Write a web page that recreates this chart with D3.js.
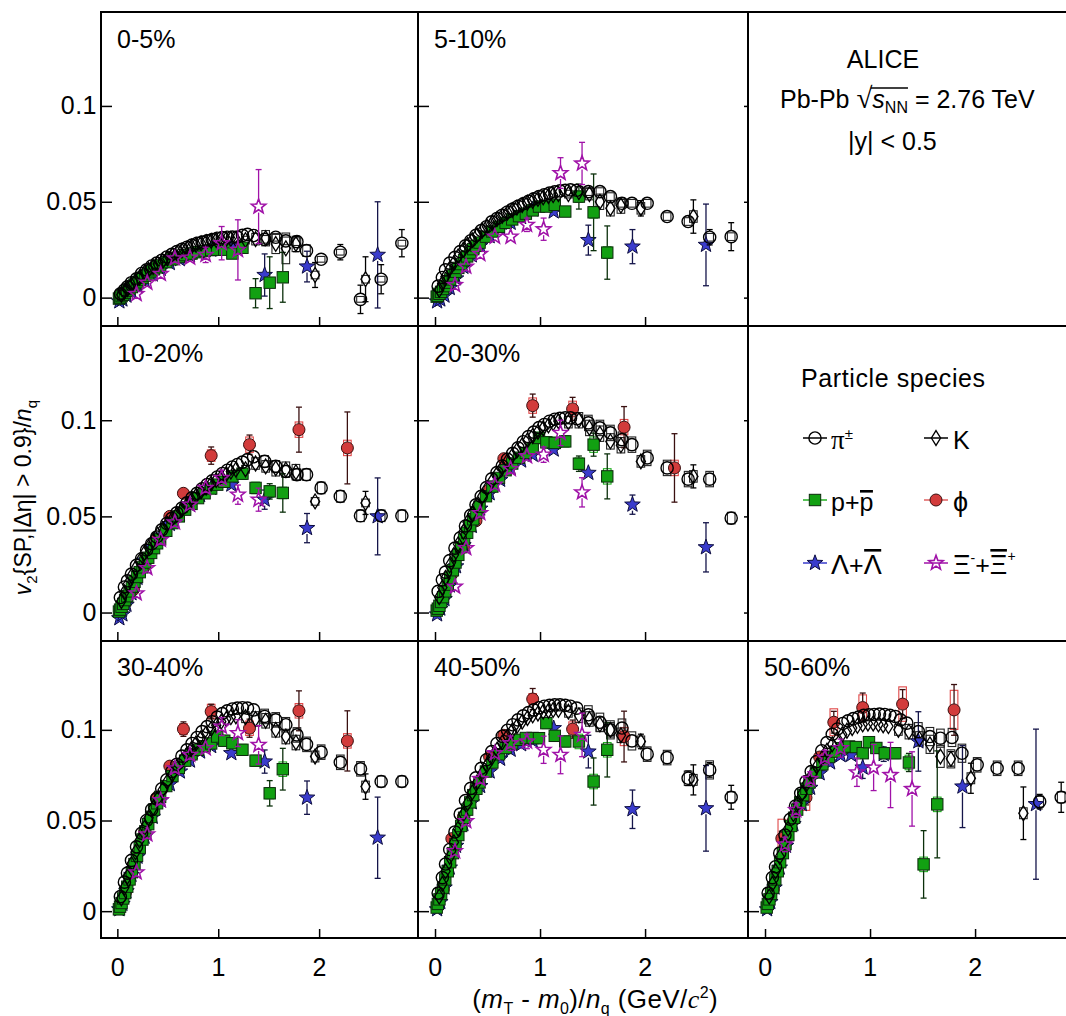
<!DOCTYPE html>
<html><head><meta charset="utf-8">
<script src="https://cdn.jsdelivr.net/npm/d3@7"></script>
<style>
body{margin:0;background:#fff}
svg text{font-family:"Liberation Sans",Arial,Helvetica,sans-serif;fill:#000}
</style></head>
<body><svg id="c" width="1066" height="1016"></svg>
<script>
// ---------------- DATA ----------------
const centralities = ["0-5%","5-10%","10-20%","20-30%","30-40%","40-50%","50-60%"];
const xTicks = [0, 1, 2];
const yTicks = [0, 0.05, 0.1];
const yTickLabels = ["0", "0.05", "0.1"];

// (mT - m0)/nq bin centres per species (GeV/c^2)
const PI_X = [0.03,0.07,0.10,0.14,0.19,0.24,0.29,0.34,0.39,0.44,0.49,0.54,0.59,0.64,0.69,0.74,0.79,0.84,0.89,0.94,0.99,1.04,1.09,1.14,1.19,1.24,1.29,1.35,1.46,1.57,1.67,1.78,1.875,2.02,2.21,2.41,2.615,2.82];
const K_X = [0.04,0.07,0.10,0.14,0.18,0.22,0.27,0.31,0.355,0.40,0.45,0.495,0.545,0.59,0.64,0.69,0.735,0.78,0.83,0.88,0.93,0.98,1.03,1.08,1.125,1.175,1.27,1.37,1.47,1.57,1.67,1.77,1.96,2.46];
const P_X = [0.016,0.027,0.042,0.058,0.077,0.098,0.121,0.144,0.17,0.195,0.222,0.249,0.277,0.306,0.335,0.364,0.394,0.424,0.485,0.546,0.609,0.672,0.735,0.80,0.865,0.93,0.99,1.06,1.14,1.24,1.37,1.51,1.64];
const PHI_X = [0.08,0.16,0.27,0.39,0.52,0.655,0.93,1.31,1.80,2.28];
const LAM_X = [0.02,0.05,0.09,0.14,0.20,0.27,0.35,0.43,0.52,0.62,0.72,0.82,0.93,1.13,1.46,1.88,2.58];
const XI_X = [0.19,0.296,0.43,0.57,0.72,0.875,1.034,1.195,1.40];

// v2/nq values: number = value, [value, stat, syst] where uncertainties are drawn
const pion_0_5 = [0.002,0.004,0.0057,0.0078,0.0098,0.0126,0.0145,0.0165,0.018,0.0195,0.0212,0.0226,0.024,0.0252,0.0263,0.0274,0.0284,0.029,0.0297,0.0303,0.031,0.0313,0.0315,0.0316,0.0316,0.0325,0.033,0.0324,[0.0304,0.001,0.002],[0.0315,0.001,0.002],[0.0296,0.001,0.002],[0.0292,0.0012,0.002],[0.0245,0.0015,0.003],[0.020,0.0015,0.0015],[0.0237,0.004,0.0015],[-0.0009,0.0074,0.0015],[0.0096,0.0076,0.0015],[0.0284,0.0071,0.0015]];
const pion_5_10 = [0.006,0.0105,0.0145,0.018,0.021,0.024,0.027,0.0297,0.0325,0.035,0.037,0.0395,0.0413,0.043,0.0447,0.0462,0.0477,0.049,0.0503,0.0515,0.0527,0.0537,0.0545,0.0552,0.0557,0.056,0.0562,0.056,[0.0553,0.001,0.002],[0.0553,0.001,0.002],[0.0527,0.001,0.002],[0.0492,0.001,0.002],[0.0492,0.0012,0.002],[0.0492,0.0015,0.002],[0.0423,0.002,0.002],[0.0397,0.003,0.002],[0.0315,0.004,0.002],[0.0318,0.0073,0.002]];
const pion_10_20 = [0.0078,0.0133,0.0165,0.020,0.0245,0.028,0.0325,0.0358,0.0393,0.043,0.0463,0.049,0.0518,0.0543,0.057,0.0596,0.062,0.0643,0.0665,0.0685,0.0705,0.0723,0.074,0.0757,0.077,0.0782,0.0795,0.081,[0.0786,0.001,0.003],[0.076,0.001,0.003],[0.0734,0.001,0.003],[0.0717,0.0012,0.003],[0.0717,0.0015,0.003],[0.0648,0.0015,0.003],[0.0604,0.002,0.003],[0.0503,0.002,0.003],[0.0503,0.002,0.003],[0.0503,0.0025,0.003]];
const pion_20_30 = [0.011,0.017,0.021,0.027,0.0335,0.0388,0.045,0.0505,0.056,0.0604,0.065,0.0695,0.0728,0.0762,0.0797,0.0828,0.0856,0.0888,0.0915,0.0938,0.0962,0.0978,0.0995,0.1005,0.101,0.1012,0.1012,0.1008,[0.0986,0.001,0.004],[0.096,0.001,0.004],[0.0934,0.0012,0.004],[0.0899,0.0012,0.004],[0.0873,0.0015,0.004],[0.0804,0.002,0.004],[0.0752,0.003,0.004],[0.0694,0.003,0.004],[0.0694,0.003,0.004],[0.0491,0.002,0.003]];
const pion_30_40 = [0.008,0.016,0.021,0.028,0.0355,0.043,0.05,0.056,0.062,0.0675,0.0725,0.077,0.081,0.0855,0.089,0.0925,0.0958,0.099,0.1018,0.1045,0.107,0.109,0.1105,0.1115,0.112,0.1122,0.112,0.111,[0.1074,0.001,0.004],[0.1055,0.001,0.004],[0.1028,0.0012,0.004],[0.0972,0.0015,0.004],[0.092,0.0015,0.004],[0.0877,0.002,0.004],[0.0821,0.003,0.004],[0.0785,0.003,0.004],[0.0715,0.003,0.003],[0.0715,0.003,0.003]];
const pion_40_50 = [0.01,0.0185,0.026,0.034,0.0437,0.0535,0.061,0.0677,0.0735,0.0788,0.0835,0.088,0.0925,0.0965,0.0998,0.1028,0.1055,0.1077,0.1095,0.111,0.1122,0.113,0.1135,0.1138,0.1138,0.1135,0.113,0.112,[0.1083,0.0015,0.005],[0.1042,0.0015,0.005],[0.100,0.002,0.005],[0.101,0.002,0.005],[0.0939,0.002,0.005],[0.0866,0.003,0.004],[0.0847,0.003,0.004],[0.0733,0.004,0.004],[0.0779,0.004,0.005],[0.0628,0.0066,0.003]];
const pion_50_60 = [0.01,0.0185,0.0245,0.032,0.042,0.0507,0.058,0.065,0.0715,0.077,0.0825,0.0885,0.093,0.0975,0.1005,0.1035,0.105,0.1062,0.107,0.108,0.1083,0.1085,0.1087,0.1085,0.108,0.1074,0.1055,0.1037,[0.099,0.002,0.005],[0.0963,0.002,0.005],[0.0954,0.002,0.005],[0.0958,0.002,0.005],[0.0871,0.003,0.005],[0.0807,0.003,0.004],[0.0788,0.003,0.004],[0.0788,0.003,0.004],[0.0604,0.004,0.003],[0.0628,0.0083,0.003]];

const kaon_0_5 = [0.0015,0.003,0.0045,0.0065,0.0085,0.0105,0.013,0.0145,0.016,0.0175,0.019,0.0205,0.022,0.0232,0.0245,0.0256,0.0266,0.0275,0.0283,0.029,0.0296,0.030,0.0303,0.0305,0.0306,0.0305,[0.030,0.001,0.002],[0.0305,0.0015,0.003],[0.031,0.002,0.004],[0.028,0.003,0.005],[0.0257,0.003,0.008],[0.028,0.004,0.004],[0.0118,0.0065,0.002],[0.0096,0.0117,0.002]];
const kaon_5_10 = [0.004,0.0075,0.011,0.015,0.018,0.0215,0.025,0.0275,0.030,0.0325,0.035,0.037,0.039,0.041,0.0427,0.0443,0.0457,0.047,0.0483,0.0495,0.0505,0.0515,0.0523,0.053,0.0535,0.054,[0.054,0.001,0.002],[0.055,0.0015,0.003],[0.054,0.002,0.003],[0.050,0.002,0.004],[0.0466,0.003,0.004],[0.048,0.003,0.004],[0.0466,0.004,0.003],[0.0423,0.0087,0.003]];
const kaon_10_20 = [0.006,0.0105,0.0145,0.019,0.023,0.0265,0.031,0.034,0.0375,0.0405,0.0435,0.046,0.0487,0.051,0.0535,0.056,0.0585,0.0607,0.063,0.065,0.067,0.0688,0.0705,0.072,0.0733,0.0743,[0.0745,0.001,0.002],[0.0775,0.0015,0.003],[0.076,0.002,0.003],[0.075,0.002,0.004],[0.0743,0.003,0.004],[0.073,0.003,0.004],[0.0578,0.003,0.002],[0.057,0.006,0.002]];
const kaon_20_30 = [0.008,0.013,0.018,0.0245,0.03,0.0355,0.042,0.047,0.0515,0.056,0.0605,0.0645,0.0685,0.072,0.0755,0.0788,0.0815,0.0843,0.087,0.0895,0.0918,0.094,0.0958,0.0973,0.0985,0.0995,[0.099,0.001,0.003],[0.100,0.0015,0.004],[0.096,0.002,0.004],[0.093,0.002,0.004],[0.089,0.003,0.004],[0.087,0.003,0.004],[0.0786,0.003,0.003],[0.0708,0.006,0.003]];
const kaon_30_40 = [0.007,0.013,0.019,0.026,0.0325,0.039,0.046,0.0515,0.057,0.062,0.067,0.0715,0.0755,0.0795,0.083,0.0865,0.0895,0.0925,0.0955,0.098,0.1005,0.1025,0.1045,0.106,0.107,0.1075,[0.107,0.001,0.003],[0.106,0.0015,0.004],[0.105,0.002,0.004],[0.100,0.002,0.004],[0.0963,0.003,0.004],[0.093,0.003,0.004],[0.0853,0.003,0.003],[0.0687,0.007,0.003]];
const kaon_40_50 = [0.008,0.015,0.022,0.03,0.038,0.0455,0.0535,0.0595,0.0655,0.071,0.076,0.0805,0.085,0.089,0.093,0.0965,0.0995,0.102,0.1045,0.1065,0.108,0.109,0.110,0.1105,0.111,0.111,[0.110,0.001,0.003],[0.108,0.0015,0.004],[0.106,0.002,0.004],[0.103,0.002,0.004],[0.100,0.003,0.004],[0.097,0.003,0.004],[0.0936,0.004,0.003],[0.0724,0.0083,0.003]];
const kaon_50_60 = [0.008,0.015,0.022,0.03,0.038,0.0455,0.0535,0.0595,0.065,0.0705,0.0755,0.08,0.0845,0.0885,0.092,0.095,0.0975,0.0995,0.101,0.1022,0.103,0.1035,0.1035,0.103,0.1025,0.102,[0.100,0.0015,0.003],[0.099,0.002,0.004],[0.095,0.002,0.004],[0.092,0.003,0.005],[0.0853,0.003,0.006],[0.084,0.004,0.005],[0.0733,0.0083,0.003],[0.054,0.0145,0.003]];

const proton_0_5 = [-0.0005,0.0,0.0008,0.0015,0.0025,0.0035,0.0045,0.0055,0.0068,0.008,0.0092,0.0104,0.0115,0.0126,0.0137,0.0148,0.0158,0.0168,0.0185,0.020,0.0212,0.0222,0.023,0.0237,0.0243,0.0248,[0.025,0.001,0.001],[0.025,0.001,0.001],[0.023,0.0015,0.001],[0.026,0.002,0.001],[0.0023,0.0076,0.002],[0.0078,0.0135,0.002],[0.0106,0.013,0.002]];
const proton_5_10 = [0.0005,0.001,0.002,0.003,0.0045,0.006,0.0078,0.0095,0.0115,0.0135,0.0155,0.0175,0.0195,0.0215,0.0235,0.0253,0.027,0.0287,0.0318,0.0345,0.037,0.039,0.0408,0.0425,0.0438,0.0455,[0.0475,0.001,0.002],[0.0475,0.001,0.002],[0.0484,0.0015,0.002],[0.0449,0.002,0.002],[0.0527,0.0065,0.003],[0.0445,0.020,0.003],[0.0235,0.0139,0.003]];
const proton_10_20 = [0.0005,0.0015,0.003,0.0045,0.0065,0.0085,0.011,0.0135,0.016,0.0185,0.021,0.0235,0.026,0.0285,0.031,0.0335,0.036,0.038,0.0425,0.0465,0.050,0.0535,0.0565,0.0595,0.062,0.0645,[0.0665,0.001,0.002],[0.068,0.001,0.002],[0.0708,0.0015,0.002],[0.0722,0.002,0.003],[0.0648,0.003,0.003],[0.063,0.004,0.003],[0.0622,0.010,0.003]];
const proton_20_30 = [0.001,0.002,0.0035,0.0055,0.008,0.011,0.0145,0.018,0.022,0.026,0.030,0.034,0.038,0.0415,0.045,0.0485,0.052,0.055,0.0605,0.0655,0.070,0.074,0.0775,0.0805,0.083,0.0855,[0.0908,0.001,0.003],[0.0885,0.001,0.003],[0.0882,0.0015,0.003],[0.089,0.002,0.003],[0.0774,0.004,0.003],[0.0873,0.006,0.004],[0.0708,0.0117,0.004]];
const proton_30_40 = [0.001,0.0025,0.0045,0.007,0.010,0.0135,0.0175,0.0215,0.026,0.0305,0.035,0.0395,0.044,0.048,0.052,0.056,0.0595,0.063,0.069,0.0745,0.079,0.083,0.0865,0.089,0.091,0.0925,[0.0963,0.001,0.003],[0.094,0.001,0.003],[0.0926,0.0015,0.003],[0.089,0.002,0.003],[0.083,0.003,0.003],[0.065,0.007,0.003],[0.0783,0.0115,0.004]];
const proton_40_50 = [0.002,0.004,0.0065,0.0095,0.013,0.0175,0.022,0.027,0.032,0.037,0.042,0.047,0.0515,0.056,0.060,0.064,0.0675,0.071,0.077,0.082,0.0865,0.090,0.0925,0.0945,0.0955,0.0955,[0.0954,0.001,0.003],[0.1037,0.0015,0.003],[0.0967,0.002,0.003],[0.0936,0.002,0.003],[0.0936,0.003,0.004],[0.0715,0.013,0.004],[0.089,0.015,0.004]];
const proton_50_60 = [0.002,0.004,0.0065,0.0095,0.013,0.0175,0.022,0.027,0.032,0.037,0.042,0.047,0.0515,0.056,0.060,0.064,0.0675,0.071,0.0765,0.081,0.085,0.088,0.0899,0.0908,0.0905,0.0871,[0.0932,0.002,0.003],[0.090,0.002,0.003],[0.0871,0.003,0.003],[0.0871,0.003,0.003],[0.082,0.005,0.004],[0.0258,0.0186,0.004],[0.0589,0.0295,0.004]];

const phi_10_20 = [0.005,0.012,0.024,0.038,0.05,0.062,[0.0816,0.0045,0.003],[0.0873,0.005,0.004],[0.0951,0.0117,0.004],[0.0856,0.0187,0.004]];
const phi_20_30 = [0.008,0.02,0.034,0.0477,0.064,0.08,[0.1076,0.006,0.004],[0.1059,0.006,0.004],[0.0964,0.0107,0.004],[0.0752,0.0178,0.004]];
const phi_30_40 = [0.01,0.0254,0.044,0.0626,0.08,[0.1004,0.004,0.003],[0.1101,0.004,0.004],[0.1009,0.005,0.004],[0.1105,0.011,0.004],[0.0939,0.0166,0.004]];
const phi_40_50 = [0.012,0.04,0.052,0.0687,0.085,0.097,[0.117,0.0058,0.003],[0.1004,0.005,0.004],[0.0963,0.014,0.005],null];
const phi_50_60 = [0.012,[0.0401,0.004,0.0106],0.05,[0.0626,0.004,0.007],0.085,[0.1042,0.006,0.0074],[0.1123,0.008,0.007],[0.1142,0.008,0.0095],[0.111,0.014,0.0108],null];

const lambda_0_5 = [-0.002,-0.001,0.001,0.003,0.006,0.009,0.012,0.015,0.018,0.02,0.022,0.0235,0.025,[0.027,0.002,0],[0.0118,0.011,0],[0.0162,0.008,0],[0.0223,0.0277,0]];
const lambda_5_10 = [-0.002,-0.001,0.001,0.005,0.010,0.016,0.022,0.027,0.032,0.036,0.039,0.042,0.046,[0.0449,0.002,0],[0.030,0.0078,0],[0.0266,0.0089,0],[0.0275,0.0213,0]];
const lambda_10_20 = [-0.003,-0.001,0.004,0.010,0.018,0.027,0.034,0.040,0.046,0.051,0.056,0.061,0.0648,[0.0665,0.002,0],[0.0587,0.005,0],[0.0439,0.0076,0],[0.050,0.020,0]];
const lambda_20_30 = [-0.001,0.002,0.007,0.014,0.024,0.035,0.045,0.054,0.062,0.069,0.075,0.079,0.082,[0.0847,0.002,0],[0.0726,0.003,0],[0.0561,0.005,0],[0.0339,0.0128,0]];
const lambda_30_40 = [0.001,0.004,0.011,0.020,0.030,0.041,0.052,0.061,0.070,0.077,0.083,0.088,0.091,[0.0871,0.002,0],[0.0825,0.0064,0],[0.0626,0.0092,0],[0.0405,0.0224,0]];
const lambda_40_50 = [0.001,0.005,0.013,0.024,0.036,0.048,0.060,0.069,0.077,0.084,0.089,0.092,0.094,[0.1009,0.003,0],[0.088,0.009,0],[0.0562,0.0106,0],[0.0567,0.0236,0]];
const lambda_50_60 = [0.001,0.005,0.013,0.024,0.036,0.048,0.059,0.068,0.076,0.082,0.086,[0.0862,0.003,0],[0.0792,0.006,0],[0.0866,0.004,0],[0.0936,0.0164,0],[0.0687,0.0226,0],[0.059,0.0414,0]];

const xi_0_5 = [[0.0019,0.002,0],[0.0078,0.002,0],[0.0124,0.0025,0],[0.0205,0.003,0],[0.0209,0.003,0],[0.0223,0.004,0],[0.0284,0.0087,0],[0.0249,0.0157,0],[0.0475,0.0193,0]];
const xi_5_10 = [[0.0066,0.003,0],[0.0162,0.003,0],[0.0228,0.003,0],[0.0318,0.003,0],[0.0318,0.003,0],[0.038,0.0035,0],[0.0357,0.0058,0],[0.065,0.008,0],[0.070,0.011,0]];
const xi_10_20 = [[0.010,0.003,0],[0.0231,0.003,0],[0.0378,0.003,0],[0.0469,0.003,0],[0.0561,0.003,0],[0.0648,0.003,0],[0.070,0.004,0],[0.0613,0.005,0],[0.0587,0.006,0]];
const xi_20_30 = [[0.0135,0.003,0],[0.0335,0.003,0],[0.0517,0.003,0],[0.0665,0.003,0],[0.0747,0.003,0],[0.0813,0.003,0],[0.0821,0.004,0],[0.0934,0.0066,0],[0.0625,0.0076,0]];
const xi_30_40 = [[0.0214,0.003,0],[0.0424,0.003,0],[0.0613,0.003,0],[0.0788,0.003,0],[0.0862,0.003,0],[0.0899,0.003,0],[0.1018,0.005,0],[0.0982,0.0074,0],[0.0917,0.0106,0]];
const xi_40_50 = [[0.0331,0.003,0],[0.0497,0.003,0],[0.0729,0.003,0],[0.0871,0.003,0],[0.0926,0.004,0],[0.0936,0.004,0],[0.089,0.0075,0],[0.0862,0.0104,0],[0.0972,0.012,0]];
const xi_50_60 = [[0.0368,0.004,0],[0.0558,0.004,0],[0.0729,0.004,0],[0.0847,0.004,0],[0.0899,0.005,0],[0.0766,0.0078,0],[0.0792,0.0127,0],[0.0751,0.018,0],[0.0674,0.0205,0]];

// ---------------- LAYOUT / STYLE ----------------
const PION = {"0-5%":pion_0_5,"5-10%":pion_5_10,"10-20%":pion_10_20,"20-30%":pion_20_30,"30-40%":pion_30_40,"40-50%":pion_40_50,"50-60%":pion_50_60};
const KAON = {"0-5%":kaon_0_5,"5-10%":kaon_5_10,"10-20%":kaon_10_20,"20-30%":kaon_20_30,"30-40%":kaon_30_40,"40-50%":kaon_40_50,"50-60%":kaon_50_60};
const PROT = {"0-5%":proton_0_5,"5-10%":proton_5_10,"10-20%":proton_10_20,"20-30%":proton_20_30,"30-40%":proton_30_40,"40-50%":proton_40_50,"50-60%":proton_50_60};
const PHI = {"10-20%":phi_10_20,"20-30%":phi_20_30,"30-40%":phi_30_40,"40-50%":phi_40_50,"50-60%":phi_50_60};
const LAM = {"0-5%":lambda_0_5,"5-10%":lambda_5_10,"10-20%":lambda_10_20,"20-30%":lambda_20_30,"30-40%":lambda_30_40,"40-50%":lambda_40_50,"50-60%":lambda_50_60};
const XI = {"0-5%":xi_0_5,"5-10%":xi_5_10,"10-20%":xi_10_20,"20-30%":xi_20_30,"30-40%":xi_30_40,"40-50%":xi_40_50,"50-60%":xi_50_60};

const SP = {
  pi:  {X:PI_X, D:PION, shape:"circle", r:6.1, fill:"none", stroke:"#000", sw:1.4, err:"#000", sys:"#222"},
  k:   {X:K_X, D:KAON, shape:"diamond", fill:"none", stroke:"#000", sw:1.3, err:"#000", sys:"#222"},
  p:   {X:P_X, D:PROT, shape:"square", fill:"#12a012", stroke:"#0c2a0c", sw:1, err:"#0b300b", sys:"#22b022"},
  lam: {X:LAM_X, D:LAM, shape:"star", fill:"#3a3ccc", stroke:"#0d0d40", sw:1, err:"#15154a", sys:"#3a3ccc"},
  phi: {X:PHI_X, D:PHI, shape:"circle", r:6, fill:"#d23b3b", stroke:"#3a0f0f", sw:1, err:"#3a1010", sys:"#e04848"},
  xi:  {X:XI_X, D:XI, shape:"ostar", fill:"none", stroke:"#a012a8", sw:1.6, err:"#a012a8", sys:"#a012a8"}
};
const drawOrder = ["phi","lam","p","k","pi","xi"];

const cell = {"0-5%":[0,0],"5-10%":[0,1],"10-20%":[1,0],"20-30%":[1,1],"30-40%":[2,0],"40-50%":[2,1],"50-60%":[2,2]};
const colX = [[101,418],[418,748],[748,1078]];
const rowY = [[12,326],[326,641],[641,938]];
const xDomain = [-0.162, 2.98];
const yDomain = [-0.0148, 0.149];

const svg = d3.select("#c");
const FS = 25;

function starPath(R, r){
  const pts = [];
  for(let i=0;i<10;i++){
    const a = -Math.PI/2 + i*Math.PI/5;
    const rad = i%2===0 ? R : r;
    pts.push([rad*Math.cos(a), rad*Math.sin(a)]);
  }
  return "M"+pts.map(p=>p[0].toFixed(2)+","+p[1].toFixed(2)).join("L")+"Z";
}
function drawMarker(g, sp, cx, cy){
  let m;
  if(sp.shape==="circle") m = g.append("circle").attr("cx",cx).attr("cy",cy).attr("r",sp.r);
  else if(sp.shape==="square") m = g.append("rect").attr("x",cx-5.7).attr("y",cy-5.7).attr("width",11.4).attr("height",11.4);
  else if(sp.shape==="diamond") m = g.append("path").attr("d","M0,-7.4L4.6,0L0,7.4L-4.6,0Z").attr("transform",`translate(${cx},${cy})`);
  else if(sp.shape==="star") m = g.append("path").attr("d",starPath(8.2,3.4)).attr("transform",`translate(${cx},${cy})`);
  else m = g.append("path").attr("d",starPath(7.6,3.2)).attr("transform",`translate(${cx},${cy})`);
  m.attr("fill",sp.fill).attr("stroke",sp.stroke).attr("stroke-width",sp.sw);
  return m;
}
function parsePt(v){
  if(v===null || v===undefined) return null;
  if(Array.isArray(v)) return {y:v[0], e:v[1]||0, s:v[2]||0};
  return {y:v, e:0, s:0};
}

// ---------------- PANELS ----------------
for(let r=0;r<3;r++) for(let c=0;c<3;c++){
  svg.append("rect").attr("x",colX[c][0]).attr("y",rowY[r][0])
    .attr("width",colX[c][1]-colX[c][0]).attr("height",rowY[r][1]-rowY[r][0])
    .attr("fill","none").attr("stroke","#000").attr("stroke-width",2);
}

centralities.forEach((cen, pi)=>{
  const [r,c] = cell[cen];
  const x = d3.scaleLinear().domain(xDomain).range(colX[c]);
  const y = d3.scaleLinear().domain(yDomain).range([rowY[r][1], rowY[r][0]]);
  const clipId = "clip"+pi;
  svg.append("clipPath").attr("id",clipId).append("rect")
    .attr("x",colX[c][0]+1).attr("y",rowY[r][0]+1)
    .attr("width",colX[c][1]-colX[c][0]-2).attr("height",rowY[r][1]-rowY[r][0]-2);

  const ax = svg.append("g").attr("transform",`translate(${colX[c][0]},0)`)
    .call(d3.axisLeft(y).tickValues(yTicks).tickSize(-11).tickPadding(4)
      .tickFormat((d,i)=> c===0 ? yTickLabels[i] : ""));
  const axr = svg.append("g").attr("transform",`translate(${colX[c][1]},0)`)
    .call(d3.axisRight(y).tickValues(yTicks).tickSize(-4).tickFormat(()=>""));
  const bx = svg.append("g").attr("transform",`translate(0,${rowY[r][1]})`)
    .call(d3.axisBottom(x).tickValues(xTicks).tickSize(-9).tickPadding(20)
      .tickFormat(d=> r===2 ? String(d) : ""));
  [ax,axr,bx].forEach(g=>{
    g.select(".domain").remove();
    g.selectAll("line").attr("stroke","#000").attr("stroke-width",1.5);
    g.selectAll("text").attr("font-size",FS).attr("font-family","Liberation Sans, Arial, sans-serif")
      .attr("letter-spacing",0.5).attr("fill","#000");
  });

  const g = svg.append("g").attr("clip-path",`url(#${clipId})`);
  drawOrder.forEach(k=>{
    const sp = SP[k]; const arr = sp.D[cen]; if(!arr) return;
    arr.forEach((v,i)=>{
      const p = parsePt(v); if(!p || !p.s) return;
      const cx = x(sp.X[i]);
      g.append("rect").attr("x",cx-3.8).attr("width",7.6)
        .attr("y",y(p.y+p.s)).attr("height",Math.max(0.5,y(p.y-p.s)-y(p.y+p.s)))
        .attr("fill","none").attr("stroke",sp.sys).attr("stroke-width",1.1);
    });
  });
  drawOrder.forEach(k=>{
    const sp = SP[k]; const arr = sp.D[cen]; if(!arr) return;
    const gs = g.append("g");
    arr.forEach((v,i)=>{
      const p = parsePt(v); if(!p) return;
      const cx = x(sp.X[i]), cy = y(p.y);
      if(p.e){
        const y1 = y(p.y+p.e), y2 = y(p.y-p.e), gap = 6;
        if(cy-gap > y1) gs.append("line").attr("x1",cx).attr("x2",cx).attr("y1",y1).attr("y2",cy-gap).attr("stroke",sp.err).attr("stroke-width",1.3);
        if(cy+gap < y2) gs.append("line").attr("x1",cx).attr("x2",cx).attr("y1",cy+gap).attr("y2",y2).attr("stroke",sp.err).attr("stroke-width",1.3);
        if(y2-y1 > 12){
          [y1,y2].forEach(yy=> gs.append("line").attr("x1",cx-3).attr("x2",cx+3).attr("y1",yy).attr("y2",yy).attr("stroke",sp.err).attr("stroke-width",1.3));
        }
      }
      drawMarker(gs, sp, cx, cy);
    });
  });

  svg.append("text").attr("x",colX[c][0]+16).attr("y",rowY[r][0]+(r===2?35:36))
    .attr("font-size",25).text(cen);
});

// ---------------- TEXT PANEL ----------------
svg.append("text").attr("x",883).attr("y",68).attr("text-anchor","middle").attr("font-size",25).text("ALICE");
const t2 = svg.append("text").attr("x",780).attr("y",108).attr("font-size",25);
t2.append("tspan").text("Pb-Pb ");
t2.append("tspan").attr("font-family","Liberation Serif, serif").attr("font-size",29).text("\u221A");
t2.append("tspan").attr("font-style","italic").text("s");
t2.append("tspan").attr("font-size",16).attr("dy",5).text("NN");
t2.append("tspan").attr("dy",-5).text(" = 2.76 TeV");
{
  const node = t2.node();
  const e6 = node.getExtentOfChar(6), e9 = node.getExtentOfChar(9);
  svg.append("line").attr("x1",e6.x+e6.width-1.5).attr("x2",e9.x+e9.width)
    .attr("y1",108-20).attr("y2",108-20).attr("stroke","#000").attr("stroke-width",1.3);
}
svg.append("text").attr("x",848).attr("y",150).attr("font-size",25).text("|y| < 0.5");

// ---------------- LEGEND ----------------
svg.append("text").attr("x",801).attr("y",387).attr("font-size",25).attr("letter-spacing",0.6).text("Particle species");
const legendItems = [
  {sp:"pi", col:0, row:0, line:"#000"},
  {sp:"k", col:1, row:0, line:"#000"},
  {sp:"p", col:0, row:1, line:"#22b022"},
  {sp:"phi", col:1, row:1, line:"#e06060"},
  {sp:"lam", col:0, row:2, line:"#3a3ccc"},
  {sp:"xi", col:1, row:2, line:"#a012a8"}
];
const legColX = [815, 936], legRowY = [438, 500, 563], legTextX = [831, 953];
legendItems.forEach(it=>{
  const cx = legColX[it.col], cy = legRowY[it.row];
  svg.append("line").attr("x1",cx-12).attr("x2",cx+12).attr("y1",cy).attr("y2",cy).attr("stroke",it.line).attr("stroke-width",1.5);
  drawMarker(svg, SP[it.sp], cx, cy);
});
function legText(col,row){ return svg.append("text").attr("x",legTextX[col]).attr("y",legRowY[row]+11).attr("font-size",25); }
function overline(textSel, idx, dyTop){
  const e = textSel.node().getExtentOfChar(idx);
  svg.append("rect").attr("x",e.x+0.5).attr("width",e.width-1).attr("y",e.y+dyTop).attr("height",2.6).attr("fill","#000");
}
{ const t = legText(0,0);
  t.append("tspan").attr("font-family","Liberation Serif, serif").attr("font-size",27).text("\u03C0");
  t.append("tspan").attr("font-size",15).attr("dy",-10).text("\u00B1"); }
{ const t = legText(1,0); t.text("K"); }
{ const t = legText(0,1); t.text("p+p"); overline(t, 2, 2); }
{ const t = legText(1,1); t.attr("font-family","Liberation Serif, serif").attr("font-size",27).text("\u03D5"); }
{ const t = legText(0,2).attr("font-family","Liberation Serif, serif").attr("font-size",27);
  t.append("tspan").text("\u039B");
  t.append("tspan").attr("font-family","Liberation Sans, sans-serif").attr("font-size",25).text("+");
  t.append("tspan").text("\u039B");
  overline(t, 2, -1); }
{ const t = legText(1,2).attr("font-family","Liberation Serif, serif").attr("font-size",27);
  t.append("tspan").text("\u039E");
  t.append("tspan").attr("font-family","Liberation Sans, sans-serif").attr("font-size",14).attr("dy",-11).text("-");
  t.append("tspan").attr("font-family","Liberation Sans, sans-serif").attr("font-size",25).attr("dy",11).text("+");
  t.append("tspan").text("\u039E");
  t.append("tspan").attr("font-family","Liberation Sans, sans-serif").attr("font-size",14).attr("dy",-13).text("+");
  overline(t, 3, -1); }

// ---------------- AXIS TITLES ----------------
const xt = svg.append("text").attr("x",718).attr("y",1008).attr("text-anchor","end").attr("font-size",26).attr("letter-spacing",0.4);
xt.append("tspan").text("(");
xt.append("tspan").attr("font-style","italic").text("m");
xt.append("tspan").attr("font-size",16).attr("dy",6).text("T");
xt.append("tspan").attr("dy",-6).text(" - ");
xt.append("tspan").attr("font-style","italic").text("m");
xt.append("tspan").attr("font-size",16).attr("dy",6).text("0");
xt.append("tspan").attr("dy",-6).text(")/");
xt.append("tspan").attr("font-style","italic").text("n");
xt.append("tspan").attr("font-size",16).attr("dy",6).text("q");
xt.append("tspan").attr("dy",-6).text(" (GeV/");
xt.append("tspan").attr("font-style","italic").attr("font-family","Liberation Serif, serif").text("c");
xt.append("tspan").attr("font-size",16).attr("dy",-10).text("2");
xt.append("tspan").attr("dy",10).text(")");

const yt = svg.append("text").attr("transform","translate(31,400) rotate(-90)").attr("text-anchor","end").attr("font-size",23);
yt.append("tspan").attr("font-style","italic").text("v");
yt.append("tspan").attr("font-size",15).attr("dy",6).text("2");
yt.append("tspan").attr("dy",-6).text("{SP,|\u0394\u03B7| > 0.9}/");
yt.append("tspan").attr("font-style","italic").text("n");
yt.append("tspan").attr("font-size",15).attr("dy",6).text("q");
</script></body></html>
